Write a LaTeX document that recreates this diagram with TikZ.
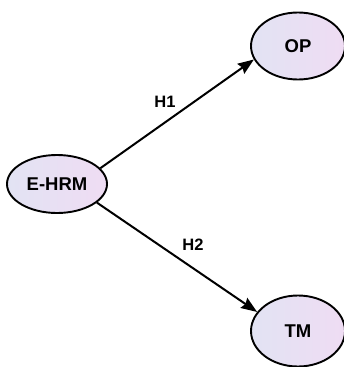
\documentclass[tikz,border=0pt]{standalone}
\usepackage{fontspec}
\setmainfont{Liberation Sans}
\usetikzlibrary{shapes.geometric,arrows.meta}
\definecolor{fillL}{HTML}{E2E3F3}
\definecolor{fillR}{HTML}{EFDCF3}
\tikzset{
  construct/.style={ellipse, draw=black, line width=1.9pt, left color=fillL, right color=fillR,
    inner sep=0pt, font=\fontsize{18.5}{20}\selectfont\bfseries},
  path/.style={line width=2pt, -{Stealth[length=16pt,width=12pt,inset=2pt]}},
  hlabel/.style={font=\fontsize{16.5}{18}\selectfont\bfseries}
}
\begin{document}
\begin{tikzpicture}[x=1pt,y=-1pt]
\useasboundingbox (0,0) rectangle (343,367);
\node[construct, minimum width=100pt, minimum height=58pt] (ehrm) at (57,184) {E-HRM};
\node[construct, minimum width=94pt, minimum height=67pt] (op) at (298,46) {OP};
\node[construct, minimum width=94pt, minimum height=71pt] (tm) at (298,331) {TM};
\draw[path] (ehrm.20) -- (op.197);
\draw[path] (ehrm.335) -- (tm.155);
\node[hlabel] (h1) at (165,102) {H1};
\node[hlabel] (h2) at (193,245) {H2};
\end{tikzpicture}
\end{document}
